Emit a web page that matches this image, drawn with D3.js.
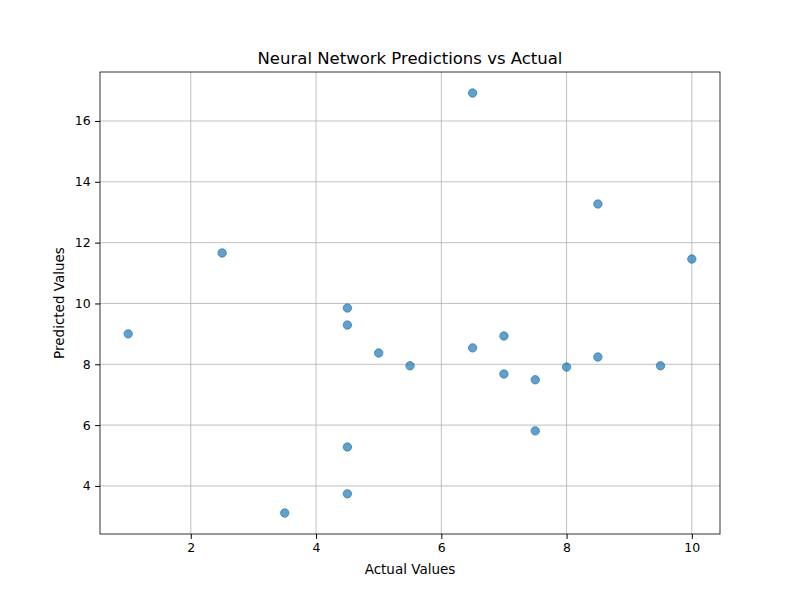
<!DOCTYPE html>
<html lang="en">
<head>
    <meta charset="UTF-8">
    <title>Neural Network Predictions vs Actual</title>
    <script src="https://d3js.org/d3.v7.min.js"></script>
    <style>
        body { margin: 0; padding: 0; overflow: hidden; background: #fff; }
        text { font-family: "DejaVu Sans", sans-serif; }
        .tick text { font-size: 12.5px; fill: #000; }
    </style>
</head>
<body>
<div id="chart"></div>
<script>
    const actual = [1, 2.5, 3.5, 4.5, 4.5, 4.5, 4.5, 5, 5.5, 6.5, 6.5, 7, 7, 7.5, 7.5, 8, 8.5, 8.5, 9.5, 10];
    const predicted = [9.0, 11.66, 3.11, 9.85, 9.29, 5.28, 3.74, 8.37, 7.95, 16.92, 8.54, 8.93, 7.68, 7.49, 5.81, 7.91, 13.27, 8.24, 7.95, 11.46];
    const xTicks = [2, 4, 6, 8, 10];
    const yTicks = [4, 6, 8, 10, 12, 14, 16];

    const width = 800, height = 600;
    const margin = { top: 72, right: 80, bottom: 66, left: 100 };
    const svg = d3.select('#chart').append('svg')
        .attr('width', width).attr('height', height);

    const xr = d3.extent(actual), yr = d3.extent(predicted);
    const xp = (xr[1] - xr[0]) * 0.05, yp = (yr[1] - yr[0]) * 0.05;
    const x = d3.scaleLinear().domain([xr[0] - xp, xr[1] + xp]).range([margin.left, width - margin.right]);
    const y = d3.scaleLinear().domain([yr[0] - yp, yr[1] + yp]).range([height - margin.bottom, margin.top]);

    // grid
    svg.append('g').selectAll('line').data(xTicks).join('line')
        .attr('x1', d => x(d)).attr('x2', d => x(d))
        .attr('y1', margin.top).attr('y2', height - margin.bottom)
        .attr('stroke', '#b0b0b0').attr('stroke-width', 0.8);
    svg.append('g').selectAll('line').data(yTicks).join('line')
        .attr('y1', d => y(d)).attr('y2', d => y(d))
        .attr('x1', margin.left).attr('x2', width - margin.right)
        .attr('stroke', '#b0b0b0').attr('stroke-width', 0.8);

    // points
    svg.append('g').selectAll('circle').data(actual).join('circle')
        .attr('cx', d => x(d)).attr('cy', (d, i) => y(predicted[i]))
        .attr('r', 4.2).attr('fill', '#1f77b4').attr('fill-opacity', 0.7)
        .attr('stroke', '#1f77b4').attr('stroke-opacity', 0.7).attr('stroke-width', 1);

    // axes
    svg.append('g').attr('transform', `translate(0,${height - margin.bottom})`)
        .call(d3.axisBottom(x).tickValues(xTicks).tickSize(4.9).tickPadding(4.5).tickFormat(d3.format('d')))
        .call(g => g.select('.domain').remove());
    svg.append('g').attr('transform', `translate(${margin.left},0)`)
        .call(d3.axisLeft(y).tickValues(yTicks).tickSize(4.9).tickPadding(4.5).tickFormat(d3.format('d')))
        .call(g => g.select('.domain').remove());

    svg.append('rect')
        .attr('x', margin.left).attr('y', margin.top)
        .attr('width', width - margin.left - margin.right)
        .attr('height', height - margin.top - margin.bottom)
        .attr('fill', 'none').attr('stroke', '#000').attr('stroke-width', 0.8);

    // labels
    svg.append('text').attr('x', (margin.left + width - margin.right) / 2).attr('y', 64)
        .attr('text-anchor', 'middle').attr('font-size', 16.5).text('Neural Network Predictions vs Actual');
    svg.append('text').attr('x', (margin.left + width - margin.right) / 2).attr('y', 574)
        .attr('text-anchor', 'middle').attr('font-size', 13.5).text('Actual Values');
    svg.append('text')
        .attr('transform', `translate(64,${(margin.top + height - margin.bottom) / 2}) rotate(-90)`)
        .attr('text-anchor', 'middle').attr('font-size', 13.5).text('Predicted Values');
</script>
</body>
</html>
